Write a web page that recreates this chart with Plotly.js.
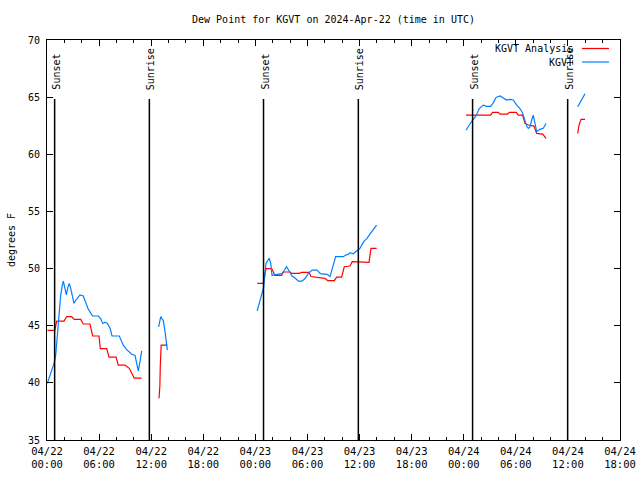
<!DOCTYPE html>
<html>
<head>
<meta charset="utf-8">
<script src="https://cdn.plot.ly/plotly-3.0.1.min.js"></script>
<style>html,body{margin:0;padding:0;background:#fff;}#chart{width:640px;height:480px;}</style>
</head>
<body>
<div id="chart"></div>
<script>
// hours since 2024-04-22 00:00 UTC; null = gap in data
const analysisHours = [0.05,0.89,1.12,1.96,2.27,2.84,3.14,3.88,4.18,4.95,5.26,5.99,6.14,6.88,7.14,7.95,8.21,8.98,9.48,10.05,10.9,null,
  12.9,13.0,13.05,13.15,13.86,null,
  24.22,24.91,25.22,25.88,26.26,27.03,27.22,27.99,28.2,29.1,29.3,30.2,30.4,31.25,32.0,32.33,33.09,33.37,33.94,34.24,34.9,35.16,36.05,36.17,37.09,37.32,37.97,null,
  48.26,51.1,51.31,51.98,52.18,53.04,53.27,54.05,54.28,54.77,55.06,55.44,56.09,56.4,57.1,57.48,null,
  61.13,61.28,61.51,61.97];
const analysisValues = [44.6,44.6,45.4,45.4,45.8,45.8,45.55,45.55,45.15,45.15,44.1,44.1,43.0,43.0,42.25,42.25,41.55,41.55,41.27,40.42,40.42,null,
  38.65,39.7,41.5,43.3,43.3,null,
  48.7,48.7,50.0,50.0,49.4,49.4,49.7,49.7,49.58,49.58,49.67,49.67,49.3,49.2,49.15,48.95,48.95,49.25,49.25,50.16,50.22,50.6,50.6,50.55,50.55,51.77,51.77,null,
  63.43,63.43,63.67,63.67,63.52,63.52,63.67,63.67,63.43,63.43,62.7,62.56,62.47,61.83,61.77,61.4,null,
  61.83,62.56,63.06,63.06];

const obsHours = [0.04,0.35,0.61,0.81,1.0,1.19,1.38,1.58,1.77,1.88,2.07,2.22,2.42,2.57,2.73,2.92,3.11,3.34,3.6,3.8,4.18,4.45,4.72,5.03,5.26,5.91,6.19,6.42,6.68,6.95,7.26,7.49,8.33,8.79,9.18,9.76,10.14,10.33,10.52,10.71,10.91,null,
  12.86,12.98,13.1,13.25,13.4,13.59,13.71,13.79,13.86,null,
  24.21,24.6,24.96,25.22,25.41,25.6,25.77,25.92,26.49,27.07,27.33,27.59,27.84,28.22,28.6,28.97,29.37,29.75,30.12,30.56,31.1,31.5,32.25,32.6,32.86,33.25,34.13,34.44,34.7,34.9,35.28,35.67,36.05,36.51,36.82,37.28,37.97,null,
  48.26,48.53,48.8,49.1,49.41,49.79,50.25,50.65,51.1,51.4,51.72,52.18,52.56,52.95,53.33,53.71,54.1,54.48,54.79,55.06,55.25,55.44,55.63,55.83,56.01,56.21,56.4,56.78,57.16,57.48,null,
  61.13,61.59,61.97];
const obsValues = [39.96,40.69,41.4,41.7,42.4,44.2,46.5,47.7,48.56,48.9,48.27,47.7,48.4,48.7,48.27,47.7,46.96,47.25,47.5,47.7,47.6,47.1,46.5,46.1,45.85,45.85,45.6,45.2,45.3,45.2,44.8,44.1,44.1,43.3,42.9,42.5,42.4,41.7,41.04,41.85,42.8,null,
  44.9,45.35,45.8,45.6,45.45,44.5,43.75,43.0,42.87,null,
  46.3,47.4,48.4,50.45,50.75,50.9,50.45,49.4,49.5,49.56,49.85,50.16,49.85,49.35,49.15,48.9,48.9,49.15,49.6,49.87,49.87,49.55,49.5,49.3,50.0,51.04,51.04,51.2,51.24,51.4,51.3,51.5,51.77,52.4,52.6,53.1,53.8,null,
  62.1,62.47,62.76,63.06,63.35,64.0,64.3,64.2,64.2,64.5,64.98,65.1,64.9,64.75,64.8,64.75,64.3,64.0,63.6,63.0,62.47,62.27,62.4,63.0,63.43,62.7,61.97,62.18,62.27,62.7,null,
  64.16,64.75,65.3];

const sunsetHours = [0.88, 24.94, 49.02];
const sunriseHours = [11.79, 35.86, 59.97];

const tickHours = [0,6,12,18,24,30,36,42,48,54,60,66];
const tickLabels = ['04/22<br>00:00','04/22<br>06:00','04/22<br>12:00','04/22<br>18:00',
  '04/23<br>00:00','04/23<br>06:00','04/23<br>12:00','04/23<br>18:00',
  '04/24<br>00:00','04/24<br>06:00','04/24<br>12:00','04/24<br>18:00'];

const seriesNames = ['KGVT Analysis', 'KGVT'];
const seriesColors = ['#ff0000', '#0080ff'];

const FONT = 'DejaVu Sans Mono, monospace';

const traces = [
  {x: analysisHours, y: analysisValues, name: seriesNames[0], type: 'scatter', mode: 'lines',
   line: {color: seriesColors[0], width: 1.2}, connectgaps: false, showlegend: false},
  {x: obsHours, y: obsValues, name: seriesNames[1], type: 'scatter', mode: 'lines',
   line: {color: seriesColors[1], width: 1.2}, connectgaps: false, showlegend: false}
];

const shapes = [];
const annotations = [];
const events = [];
sunsetHours.forEach(h => events.push({h: h, label: 'Sunset'}));
sunriseHours.forEach(h => events.push({h: h, label: 'Sunrise'}));
events.forEach(ev => {
  shapes.push({type: 'line', xref: 'x', yref: 'paper', x0: ev.h, x1: ev.h, y0: 0, y1: 0.8525,
    line: {color: '#000', width: 1.5}});
  annotations.push({xref: 'x', yref: 'paper', x: ev.h, y: 0.87, text: ev.label, textangle: -90,
    showarrow: false, xanchor: 'center', yanchor: 'bottom', xshift: 1,
    font: {family: FONT, size: 10, color: '#000'}});
});

// gnuplot-style key, top right: text right-justified, line sample to its right
seriesNames.forEach((name, i) => {
  const yp = 1 - (8.5 + i * 13.5) / 400;
  annotations.push({xref: 'paper', yref: 'paper', x: (575 - 47) / 573, y: yp, text: name,
    showarrow: false, xanchor: 'right', yanchor: 'middle',
    font: {family: FONT, size: 10, color: '#000'}});
  shapes.push({type: 'line', xref: 'paper', yref: 'paper', x0: (582 - 47) / 573, x1: (609 - 47) / 573,
    y0: yp, y1: yp, line: {color: seriesColors[i], width: 1.2}});
});

const layout = {
  width: 640, height: 480,
  margin: {l: 47, r: 20, t: 40, b: 40, pad: 0},
  paper_bgcolor: '#fff', plot_bgcolor: '#fff',
  font: {family: FONT, size: 10, color: '#000'},
  title: {text: 'Dew Point for KGVT on 2024-Apr-22 (time in UTC)', x: 0.5, xref: 'paper',
    y: 1 - 19 / 480, yref: 'container', yanchor: 'middle', font: {family: FONT, size: 10, color: '#000'}},
  xaxis: {range: [0, 66], tickmode: 'array', tickvals: tickHours, ticktext: tickLabels,
    ticks: 'inside', ticklen: 6, tickcolor: '#000', tickwidth: 1, ticklabelstandoff: 1,
    minor: {tickmode: 'linear', tick0: 0, dtick: 2, ticks: 'inside', ticklen: 3, tickcolor: '#000', showgrid: false},
    showline: true, linecolor: '#000', linewidth: 1, mirror: 'allticks',
    showgrid: false, zeroline: false, fixedrange: true,
    tickfont: {family: FONT, size: 10.5, color: '#000'}},
  yaxis: {range: [35, 70], tickmode: 'linear', tick0: 35, dtick: 5,
    ticks: 'inside', ticklen: 6, tickcolor: '#000', tickwidth: 1, ticklabelstandoff: 4,
    showline: true, linecolor: '#000', linewidth: 1, mirror: 'allticks',
    showgrid: false, zeroline: false, fixedrange: true,
    tickfont: {family: FONT, size: 10, color: '#000'},
    title: {text: 'degrees F', standoff: 10, font: {family: FONT, size: 10, color: '#000'}}},
  shapes: shapes,
  annotations: annotations,
  showlegend: false
};

Plotly.newPlot('chart', traces, layout, {displayModeBar: false, staticPlot: true});
</script>
</body>
</html>
